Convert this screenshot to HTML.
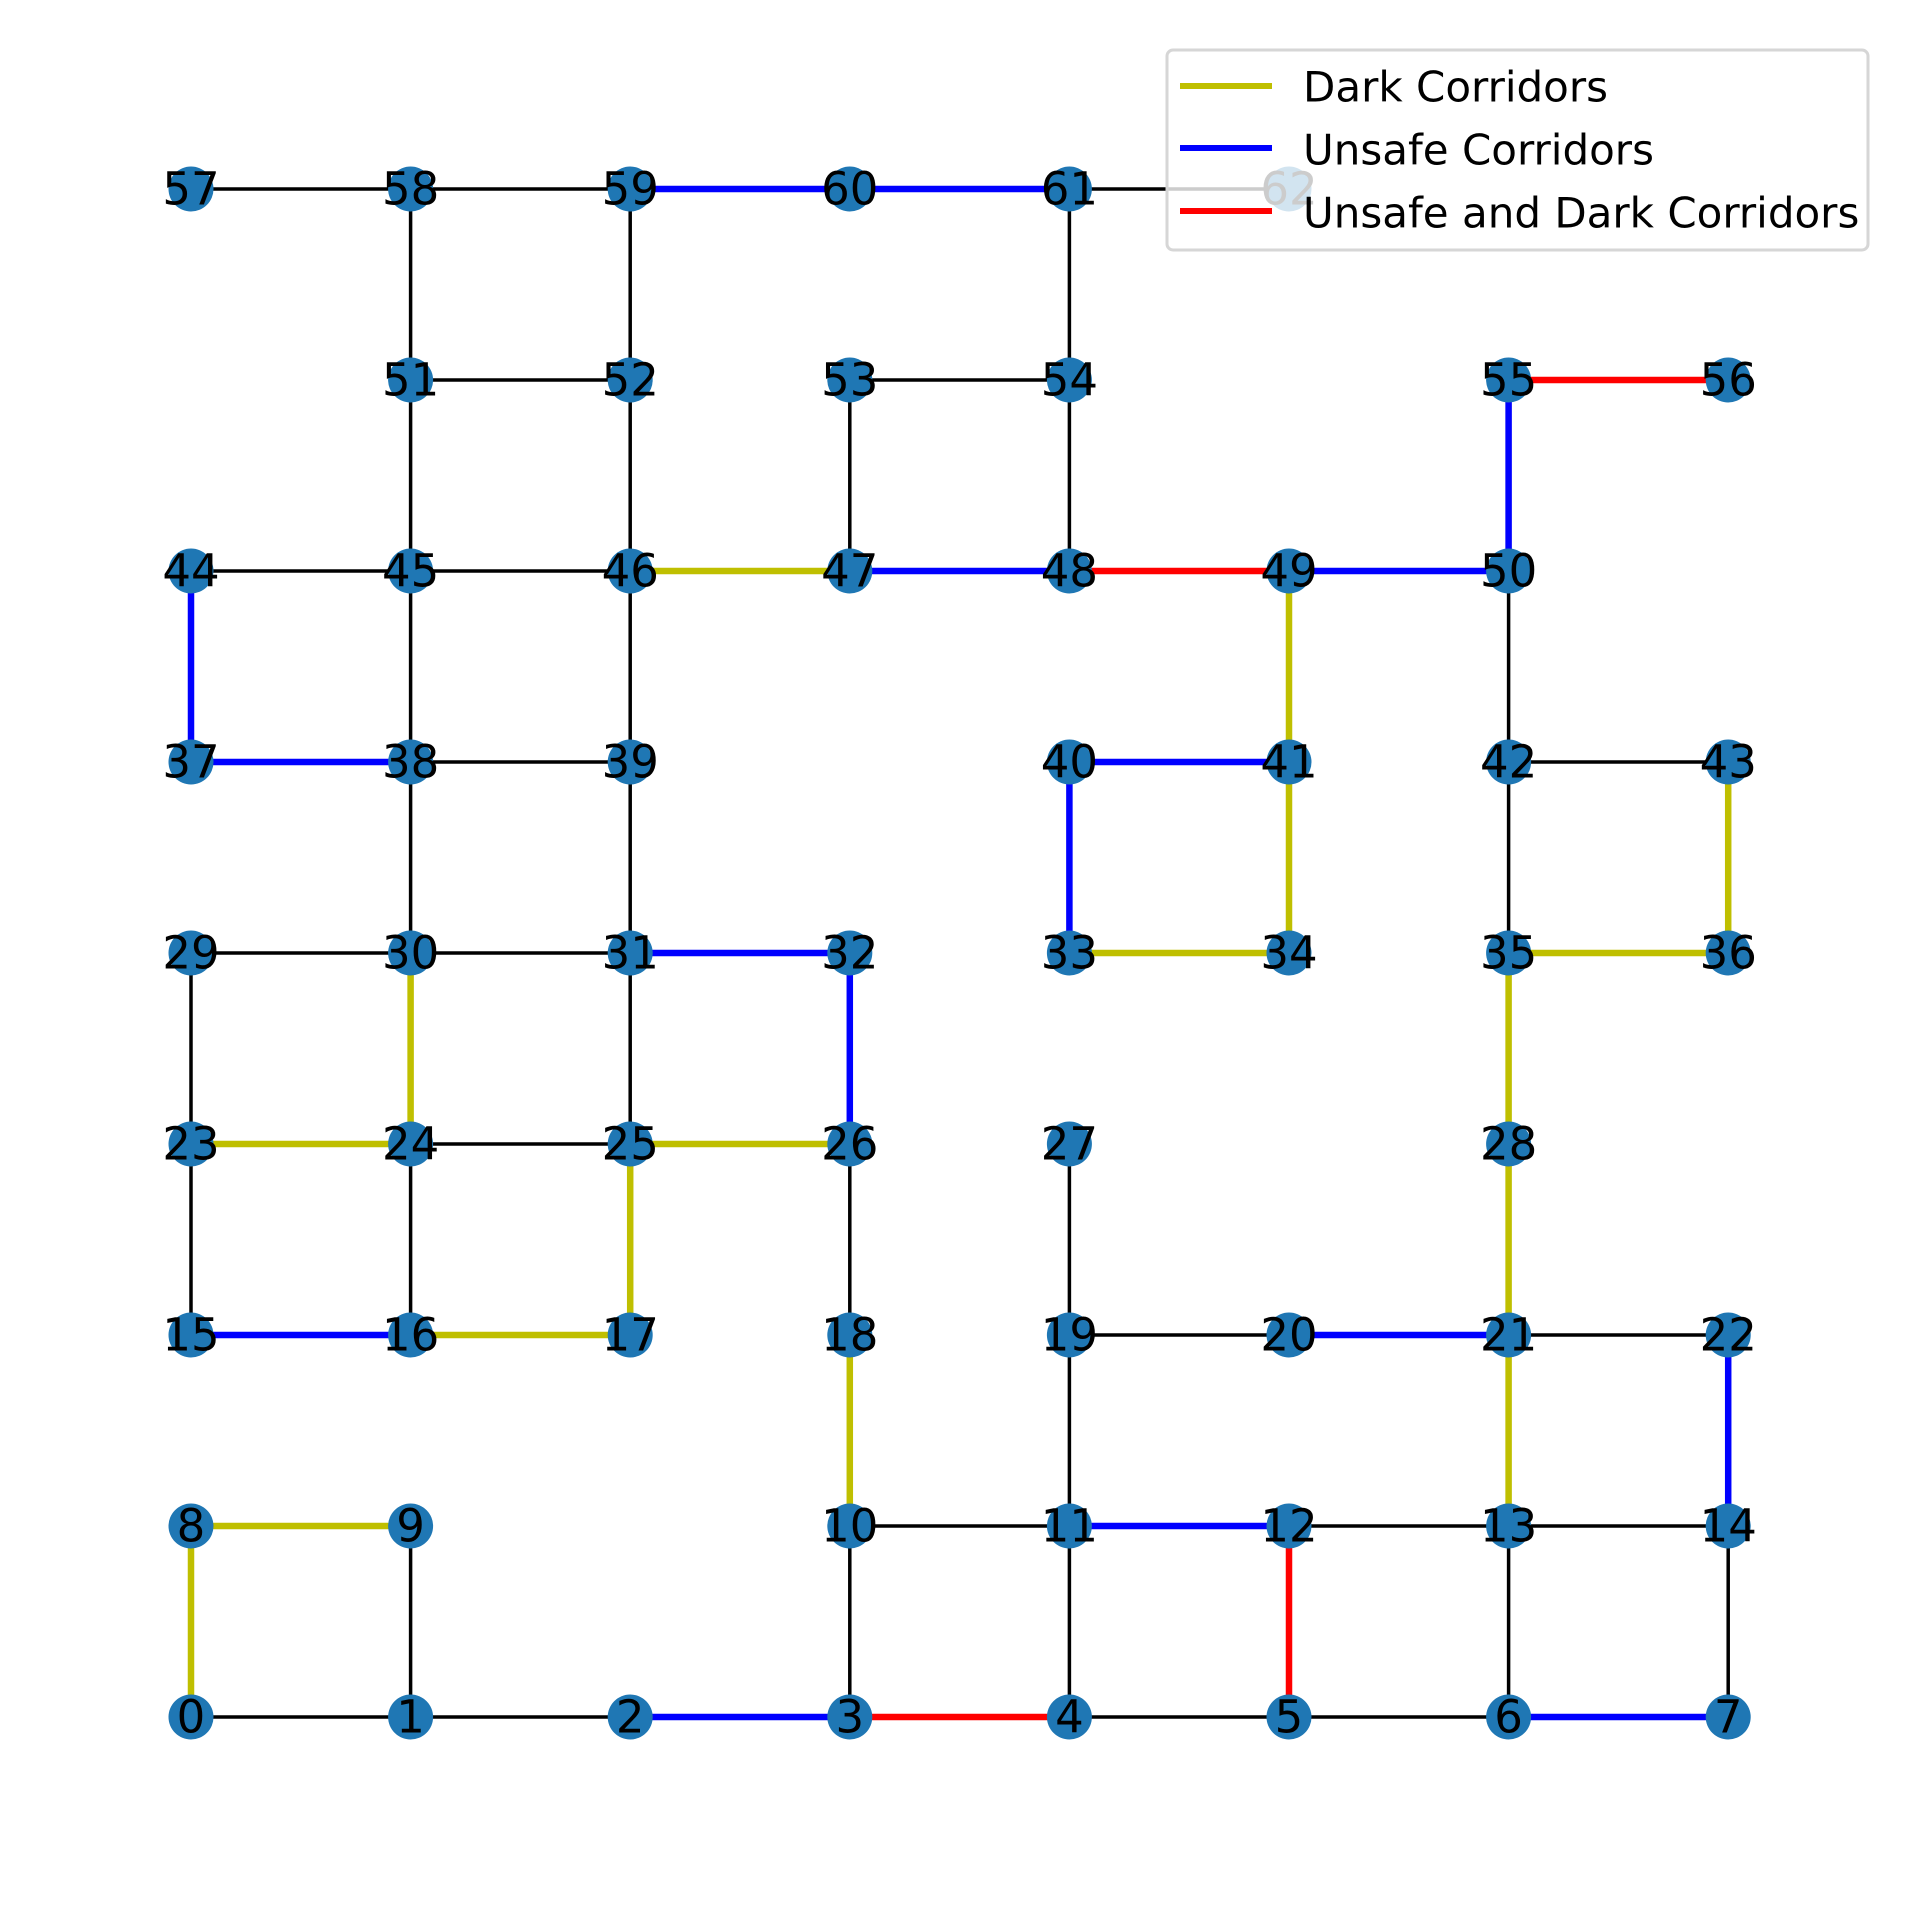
<!DOCTYPE html>
<html><head><meta charset="utf-8"><style>
html,body{margin:0;padding:0;background:#fff;}
svg{display:block;}
text{font-family:"DejaVu Sans","Liberation Sans",sans-serif;}
</style></head><body>
<svg id="chart" width="1919" height="1907" viewBox="0 0 1919 1907" xmlns="http://www.w3.org/2000/svg">
<g id="edges"></g>
<g id="nodes"></g>
<g id="labels"></g>
<g id="legend">
  <rect x="1167" y="50" width="701" height="200" rx="6" fill="#fff" fill-opacity="0.8" stroke="#d6d6d6" stroke-width="3"/>
  <line x1="1180" y1="86" x2="1272" y2="86" stroke="#bfbf00" stroke-width="6"/>
  <text x="1303" y="87" font-size="42" dominant-baseline="central">Dark Corridors</text>
  <line x1="1180" y1="148" x2="1272" y2="148" stroke="#0000ff" stroke-width="6"/>
  <text x="1303" y="150" font-size="42" dominant-baseline="central">Unsafe Corridors</text>
  <line x1="1180" y1="211" x2="1272" y2="211" stroke="#ff0000" stroke-width="6"/>
  <text x="1303" y="213" font-size="42" dominant-baseline="central">Unsafe and Dark Corridors</text>
</g>
</svg>
<script>
const nodeCols = [0,1,2,3,4,5,6,7, 0,1,3,4,5,6,7, 0,1,2,3,4,5,6,7, 0,1,2,3,4,6, 0,1,2,3,4,5,6,7, 0,1,2,4,5,6,7, 0,1,2,3,4,5,6, 1,2,3,4,6,7, 0,1,2,3,4,5];
const nodeRows = [0,0,0,0,0,0,0,0, 1,1,1,1,1,1,1, 2,2,2,2,2,2,2,2, 3,3,3,3,3,3, 4,4,4,4,4,4,4,4, 5,5,5,5,5,5,5, 6,6,6,6,6,6,6, 7,7,7,7,7,7, 8,8,8,8,8,8];
const edgeFrom = [0,1,2,3,4,5,6, 0,8,1, 3,10,11,12,13,4,5,6,7, 10,11,13,14, 15,16,19,20,21, 15,16,17,19,21, 23,24,25,26, 23,24,25,26,28, 29,30,31,33,35, 30,31,33,34,35,36, 37,38,40,42, 37,38,39,41,42, 44,45,46,47,48,49, 45,46,47,48,50, 51,53,55, 51,52,54, 57,58,59,60,61];
const edgeTo   = [1,2,3,4,5,6,7, 8,9,9, 10,11,12,13,14,11,12,13,14, 18,19,21,22, 16,17,20,21,22, 23,24,25,27,28, 24,25,26,18, 29,30,31,32,35, 30,31,32,34,36, 38,39,40,41,42,43, 38,39,41,43, 44,45,46,49,50, 45,46,47,48,49,50, 51,52,53,54,55, 52,54,56, 58,59,61, 58,59,60,61,62];
const edgeType = ['k','k','b','r','k','k','b', 'y','y','k', 'k','k','b','k','k','k','r','k','k', 'y','k','y','b', 'b','y','k','b','k', 'k','k','y','k','y', 'y','k','y','k', 'k','y','k','b','y', 'k','k','b','y','y', 'k','k','b','y','k','y', 'b','k','b','k', 'b','k','k','y','k', 'k','k','y','b','r','b', 'k','k','k','k','b', 'k','k','r', 'k','k','k', 'k','k','b','b','k'];

const X0 = 191, DX = 219.6, Y0 = 1717, DY = 191;
const xs = c => X0 + c * DX;
const ys = r => Y0 - r * DY;
const colors = {k:'#000000', y:'#bfbf00', b:'#0000ff', r:'#ff0000'};
const widths = {k:3.5, y:6.5, b:6.5, r:6.5};
const NS = 'http://www.w3.org/2000/svg';
const gE = document.getElementById('edges');
const gN = document.getElementById('nodes');
const gL = document.getElementById('labels');

for (let i = 0; i < edgeFrom.length; i++) {
  const a = edgeFrom[i], b = edgeTo[i], t = edgeType[i];
  const ln = document.createElementNS(NS, 'line');
  ln.setAttribute('x1', xs(nodeCols[a])); ln.setAttribute('y1', ys(nodeRows[a]));
  ln.setAttribute('x2', xs(nodeCols[b])); ln.setAttribute('y2', ys(nodeRows[b]));
  ln.setAttribute('stroke', colors[t]); ln.setAttribute('stroke-width', widths[t]);
  
  
  gE.appendChild(ln);
}
for (let i = 0; i < nodeCols.length; i++) {
  const c = document.createElementNS(NS, 'circle');
  c.setAttribute('cx', xs(nodeCols[i])); c.setAttribute('cy', ys(nodeRows[i]));
  c.setAttribute('r', 22.5); c.setAttribute('fill', '#1f77b4');
  
  
  gN.appendChild(c);
  const t = document.createElementNS(NS, 'text');
  t.setAttribute('x', xs(nodeCols[i])); t.setAttribute('y', ys(nodeRows[i]));
  t.setAttribute('text-anchor', 'middle'); t.setAttribute('dominant-baseline', 'central');
  t.setAttribute('font-size', '45');
  t.textContent = String(i);
  
  
  gL.appendChild(t);
}
</script>
</body></html>
